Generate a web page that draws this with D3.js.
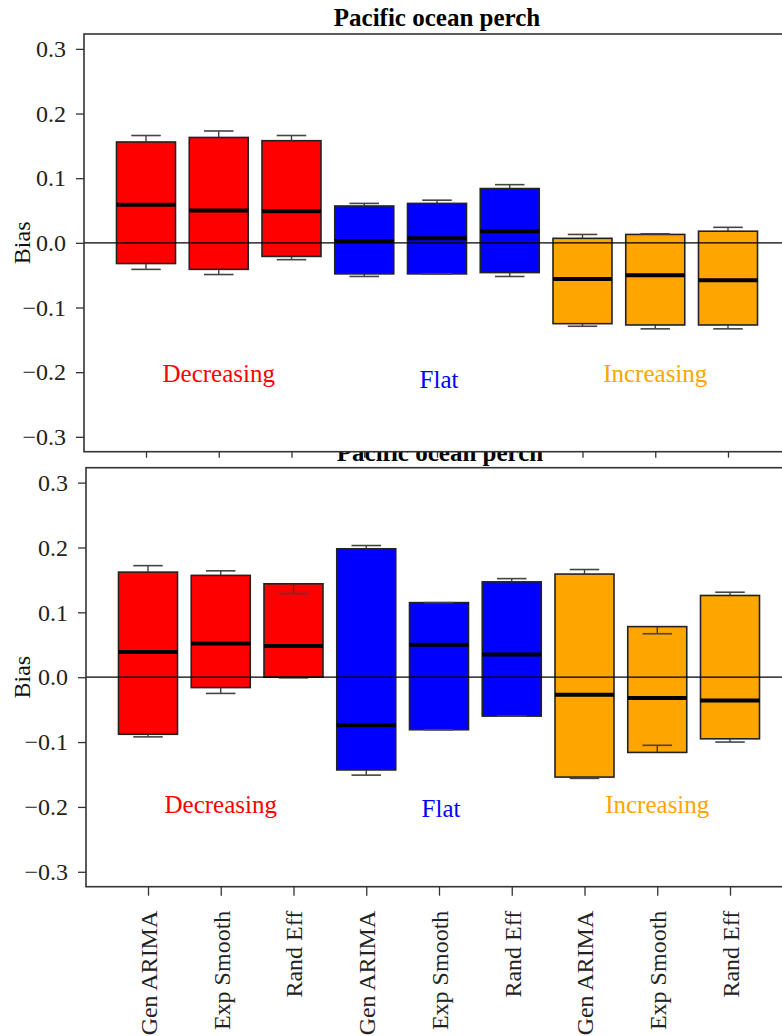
<!DOCTYPE html>
<html>
<head>
<meta charset="utf-8">
<script src="https://cdn.jsdelivr.net/npm/d3@7"></script>
<style>
  body { margin: 0; background: #fff; }
  svg { display: block; font-family: "Liberation Serif", "Times New Roman", serif; }
</style>
</head>
<body>
<div class="wrapper"></div>
<script>
const methods = ["Gen ARIMA","Exp Smooth","Rand Eff","Gen ARIMA","Exp Smooth","Rand Eff","Gen ARIMA","Exp Smooth","Rand Eff"];
const trends = ["Decreasing","Flat","Increasing"];
const trendColors = ["#ff0000","#0000ff","#ffa500"];
const yTicks = [-0.3,-0.2,-0.1,0.0,0.1,0.2,0.3];

// top panel (Pacific ocean perch)
const topWhiskLo = [-0.041,-0.049,-0.026,-0.052,-0.048,-0.052,-0.129,-0.133,-0.133];
const topBoxLo   = [-0.032,-0.041,-0.021,-0.048,-0.048,-0.046,-0.125,-0.127,-0.127];
const topMedian  = [0.059,0.050,0.049,0.003,0.007,0.018,-0.056,-0.050,-0.058];
const topBoxHi   = [0.156,0.163,0.158,0.057,0.061,0.084,0.007,0.013,0.018];
const topWhiskHi = [0.166,0.173,0.166,0.061,0.066,0.090,0.013,0.014,0.024];
const topLabelY  = [-0.215,-0.224,-0.215];

// bottom panel
const botWhiskLo = [-0.092,-0.025,-0.001,-0.151,-0.081,-0.060,-0.156,-0.105,-0.100];
const botBoxLo   = [-0.088,-0.016,0.000,-0.143,-0.081,-0.060,-0.154,-0.116,-0.095];
const botMedian  = [0.039,0.052,0.048,-0.074,0.050,0.035,-0.027,-0.032,-0.036];
const botBoxHi   = [0.162,0.157,0.144,0.198,0.115,0.147,0.159,0.078,0.126];
const botWhiskHi = [0.172,0.164,0.129,0.203,0.115,0.152,0.166,0.067,0.131];
const botLabelY  = [-0.209,-0.216,-0.209];

const W = 782, H = 1036;
const FONT = '"Liberation Serif", "Times New Roman", serif';
const svg = d3.select('.wrapper').append('svg')
  .attr('width', W).attr('height', H);

const fmt = d3.format(".1f");

function panel(opt){
  const {left, right, top, bottom, showX, wLo, bLo, med, bHi, wHi, labelY} = opt;
  const x = d3.scalePoint()
    .domain(d3.range(methods.length))
    .range([left + 62, left + 62 + 72.75*8]);
  const y = d3.scaleLinear()
    .domain([-0.323, 0.323])
    .range([bottom, top]);
  const boxW = 59;

  const g = svg.append('g');

  g.append('rect')
    .attr('x', left).attr('y', top)
    .attr('width', right-left).attr('height', bottom-top)
    .attr('fill', '#fff');

  const rows = d3.range(methods.length).map(i => ({
    i, wLo: wLo[i], bLo: bLo[i], med: med[i], bHi: bHi[i], wHi: wHi[i]
  }));

  const box = g.append('g').selectAll('g')
    .data(rows).enter().append('g');

  box.append('rect')
    .attr('x', d => x(d.i) - boxW/2)
    .attr('y', d => y(d.bHi))
    .attr('width', boxW)
    .attr('height', d => y(d.bLo) - y(d.bHi))
    .attr('fill', d => trendColors[Math.floor(d.i/3)])
    .attr('stroke', '#222')
    .attr('stroke-width', 1.6);

  // whiskers
  box.append('line')
    .attr('x1', d => x(d.i)).attr('x2', d => x(d.i))
    .attr('y1', d => y(d.bHi)).attr('y2', d => y(d.wHi))
    .attr('stroke', '#333').attr('stroke-width', 1.3);
  box.append('line')
    .attr('x1', d => x(d.i)).attr('x2', d => x(d.i))
    .attr('y1', d => y(d.bLo)).attr('y2', d => y(d.wLo))
    .attr('stroke', '#333').attr('stroke-width', 1.3);
  box.append('line')
    .attr('x1', d => x(d.i) - boxW/4).attr('x2', d => x(d.i) + boxW/4)
    .attr('y1', d => y(d.wHi)).attr('y2', d => y(d.wHi))
    .attr('stroke', '#444').attr('stroke-width', 1.6);
  box.append('line')
    .attr('x1', d => x(d.i) - boxW/4).attr('x2', d => x(d.i) + boxW/4)
    .attr('y1', d => y(d.wLo)).attr('y2', d => y(d.wLo))
    .attr('stroke', '#444').attr('stroke-width', 1.6);

  // medians
  box.append('line')
    .attr('x1', d => x(d.i) - boxW/2).attr('x2', d => x(d.i) + boxW/2)
    .attr('y1', d => y(d.med)).attr('y2', d => y(d.med))
    .attr('stroke', '#000').attr('stroke-width', 4);

  // zero line
  g.append('line')
    .attr('x1', left).attr('x2', right)
    .attr('y1', y(0)).attr('y2', y(0))
    .attr('stroke', '#000').attr('stroke-width', 1.3);

  // group labels
  g.append('g').selectAll('text')
    .data(trends).enter().append('text')
    .attr('x', (d,i) => x(i*3+1) + (i==1 ? 2 : 0))
    .attr('y', (d,i) => y(labelY[i]))
    .attr('text-anchor', 'middle')
    .attr('font-family', FONT)
    .attr('font-size', '25px')
    .attr('fill', (d,i) => trendColors[i])
    .text(d => d);

  // y axis
  const ya = g.append('g')
    .attr('transform', `translate(${left},0)`)
    .attr('font-family', FONT)
    .call(d3.axisLeft(y).tickValues(yTicks).tickFormat(fmt).tickSize(8).tickPadding(10));
  ya.attr('font-family', FONT);
  ya.select('.domain').remove();
  ya.selectAll('line').attr('stroke', '#333').attr('stroke-width', 1.3);
  ya.selectAll('text').attr('font-size', '24px').attr('fill', '#222');

  // x axis
  const xa = g.append('g')
    .attr('transform', `translate(0,${bottom})`)
    .call(d3.axisBottom(x).tickSize(showX ? 9 : 6)
      .tickFormat(showX ? (i => methods[i]) : () => ''));
  xa.attr('font-family', FONT);
  xa.select('.domain').remove();
  xa.selectAll('line').attr('stroke', '#333').attr('stroke-width', 1.3);
  if (showX) {
    xa.selectAll('text')
      .attr('font-size', '24px').attr('fill', '#222')
      .attr('text-anchor', 'end')
      .attr('x', 0).attr('y', 0).attr('dy', '0.35em')
      .attr('transform', 'translate(0,24) rotate(-90)');
  }

  // frame
  g.append('rect')
    .attr('x', left).attr('y', top)
    .attr('width', right-left).attr('height', bottom-top)
    .attr('fill', 'none')
    .attr('stroke', '#333')
    .attr('stroke-width', 1.6);

  // y label
  g.append('text')
    .attr('transform', `translate(30,${y(0)}) rotate(-90)`)
    .attr('text-anchor', 'middle')
    .attr('font-family', FONT)
    .attr('font-size', '24px')
    .attr('fill', '#111')
    .text('Bias');

  return {x, y};
}

// bottom title drawn first so the top panel covers its upper half
svg.append('text')
  .attr('x', 440).attr('y', 461)
  .attr('text-anchor', 'middle')
  .attr('font-family', FONT)
  .attr('font-size', '25px').attr('font-weight', 'bold')
  .text('Pacific ocean perch');

panel({left: 84, right: 792, top: 34, bottom: 451.7, showX: false,
  wLo: topWhiskLo, bLo: topBoxLo, med: topMedian, bHi: topBoxHi, wHi: topWhiskHi, labelY: topLabelY});

panel({left: 86, right: 792, top: 467.7, bottom: 886.7, showX: true,
  wLo: botWhiskLo, bLo: botBoxLo, med: botMedian, bHi: botBoxHi, wHi: botWhiskHi, labelY: botLabelY});

svg.append('text')
  .attr('x', 437).attr('y', 26)
  .attr('text-anchor', 'middle')
  .attr('font-family', FONT)
  .attr('font-size', '25px').attr('font-weight', 'bold')
  .text('Pacific ocean perch');
</script>
</body>
</html>
